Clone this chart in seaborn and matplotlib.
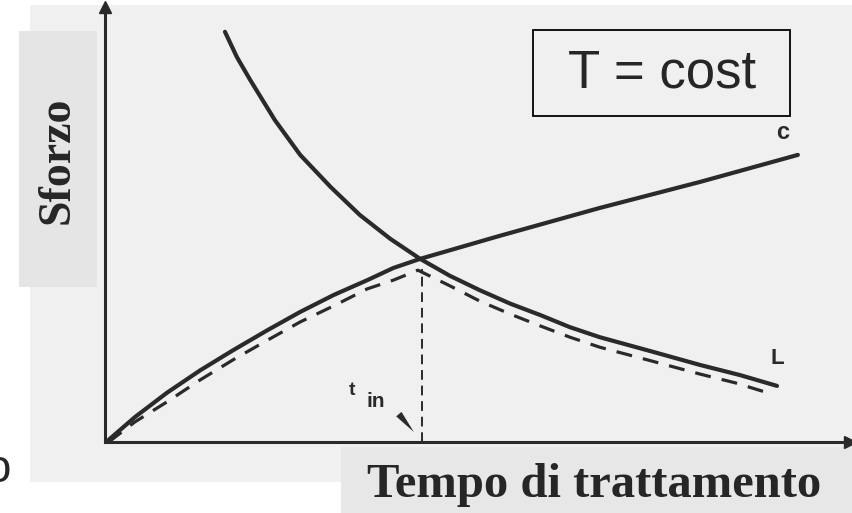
"""
Sforzo vs tempo di trattamento: curva C (crescente), curva L (decrescente),
inviluppo tratteggiato e t_in all'intersezione.
"""
import numpy as np
import pandas as pd
import matplotlib
matplotlib.use('Agg')
import matplotlib.pyplot as plt
from matplotlib.patches import Rectangle
import seaborn as sns

# curva C (sforzo crescente col tempo)
c_t = [0.05, 0.40, 0.83, 1.28, 1.72, 2.18, 2.62, 3.07, 3.52, 3.87, 4.23, 5.30, 6.64, 7.99, 9.30]
c_s = [0.05, 0.57, 1.13, 1.65, 2.11, 2.57, 2.99, 3.38, 3.72, 4.00, 4.21, 4.74, 5.38, 5.98, 6.60]

# curva L (sforzo decrescente col tempo)
l_t = [1.61, 1.77, 1.95, 2.28, 2.62, 3.03, 3.42, 3.83, 4.23, 4.63, 5.03,
       5.44, 5.84, 6.24, 6.64, 7.32, 7.99, 8.52, 9.02]
l_s = [9.43, 8.85, 8.32, 7.40, 6.60, 5.86, 5.22, 4.67, 4.21, 3.82, 3.49,
       3.18, 2.92, 2.64, 2.41, 2.09, 1.77, 1.54, 1.29]

# inviluppo tratteggiato (sotto le due curve)
e_t = [0.05, 0.40, 0.83, 1.28, 1.72, 2.18, 2.62, 3.07, 3.52, 3.87, 4.20,
       4.63, 5.03, 5.44, 5.84, 6.24, 6.64, 7.32, 7.99, 8.46, 8.86]
e_s = [0.00, 0.46, 0.92, 1.43, 1.89, 2.34, 2.76, 3.13, 3.52, 3.72, 3.95,
       3.59, 3.24, 2.94, 2.67, 2.41, 2.18, 1.87, 1.56, 1.36, 1.15]

t_in = 4.25
t_in_top = 3.98

W, H = 853, 513
INK = "#2a2a2a"


def fx(px):
    return px / W


def fy(py):
    return 1 - py / H


sns.set_style("white")
fig = plt.figure(figsize=(W / 100, H / 100), dpi=100)
fig.patch.set_facecolor("white")

# fondo "carta" della scansione e riquadri grigi
fig.add_artist(Rectangle((fx(30), fy(482)), fx(823), 477 / H, transform=fig.transFigure,
                         facecolor="#f0f0f0", edgecolor="none", zorder=-3))
fig.add_artist(Rectangle((fx(19), fy(287)), fx(78), 256 / H, transform=fig.transFigure,
                         facecolor="#e5e5e5", edgecolor="none", zorder=-2))
fig.add_artist(Rectangle((fx(341), fy(513)), fx(512), 66 / H, transform=fig.transFigure,
                         facecolor="#e7e7e7", edgecolor="none", zorder=-2))

ax = fig.add_axes([fx(105), fy(442), fx(745), 435 / H])
ax.set_facecolor("none")
ax.set_xlim(0, 10)
ax.set_ylim(0, 10)

df_c = pd.DataFrame({"t": c_t, "s": c_s})
df_l = pd.DataFrame({"t": l_t, "s": l_s})
df_e = pd.DataFrame({"t": e_t, "s": e_s})

sns.lineplot(data=df_c, x="t", y="s", sort=False, estimator=None, ax=ax,
             color=INK, linewidth=3.0, solid_capstyle="round", solid_joinstyle="round")
sns.lineplot(data=df_l, x="t", y="s", sort=False, estimator=None, ax=ax,
             color=INK, linewidth=3.0, solid_capstyle="round", solid_joinstyle="round")
sns.lineplot(data=df_e, x="t", y="s", sort=False, estimator=None, ax=ax,
             color=INK, linewidth=2.3, linestyle=(0, (5, 3.5)))
ax.plot([t_in, t_in], [0, t_in_top], color=INK, linewidth=1.4, linestyle=(0, (5, 3)))

# assi con frecce
for side in ["top", "right"]:
    ax.spines[side].set_visible(False)
for side in ["left", "bottom"]:
    ax.spines[side].set_color(INK)
    ax.spines[side].set_linewidth(2.2)
ax.plot(1, 0, ">", color=INK, markersize=9, transform=ax.transAxes, clip_on=False)
ax.plot(0, 1, "^", color=INK, markersize=9, transform=ax.transAxes, clip_on=False)
ax.set_xticks([])
ax.set_yticks([])
ax.set_xlabel("")
ax.set_ylabel("")

# etichette delle curve
lab = dict(family="Liberation Sans", fontweight="bold", color=INK)
ax.text(9.09, 6.85, "c", fontsize=17, ha="center", va="bottom", **lab)
ax.text(9.03, 1.68, "L", fontsize=16, ha="center", va="bottom", **lab)
ax.text(3.32, 0.98, "t", fontsize=14, ha="center", va="bottom", **lab)
ax.text(3.63, 0.72, "in", fontsize=15, ha="center", va="bottom", **lab)
ax.annotate("", xy=(4.17, 0.18), xytext=(3.92, 0.69),
            arrowprops=dict(arrowstyle="wedge,tail_width=0.5", color=INK, lw=0))

# riquadro T = cost
fig.add_artist(Rectangle((fx(533), fy(116)), fx(257), 86 / H, transform=fig.transFigure,
                         facecolor="none", edgecolor="black", linewidth=1.3))
fig.text(fx(662), fy(73), "T = cost", family="Liberation Sans", fontsize=38,
         ha="center", va="center")

# titoli degli assi
fig.text(fx(58), fy(160), "Sforzo", family="Liberation Serif", fontweight="bold",
         fontsize=33, rotation=90, ha="center", va="center")
fig.text(fx(594), fy(497), "Tempo di trattamento", family="Liberation Serif",
         fontweight="bold", fontsize=35, ha="center", va="baseline")
fig.text(fx(11), fy(482), "o", family="Liberation Sans", fontsize=33,
         ha="right", va="baseline")

fig.savefig("out.png", dpi=100)
plt.close(fig)
